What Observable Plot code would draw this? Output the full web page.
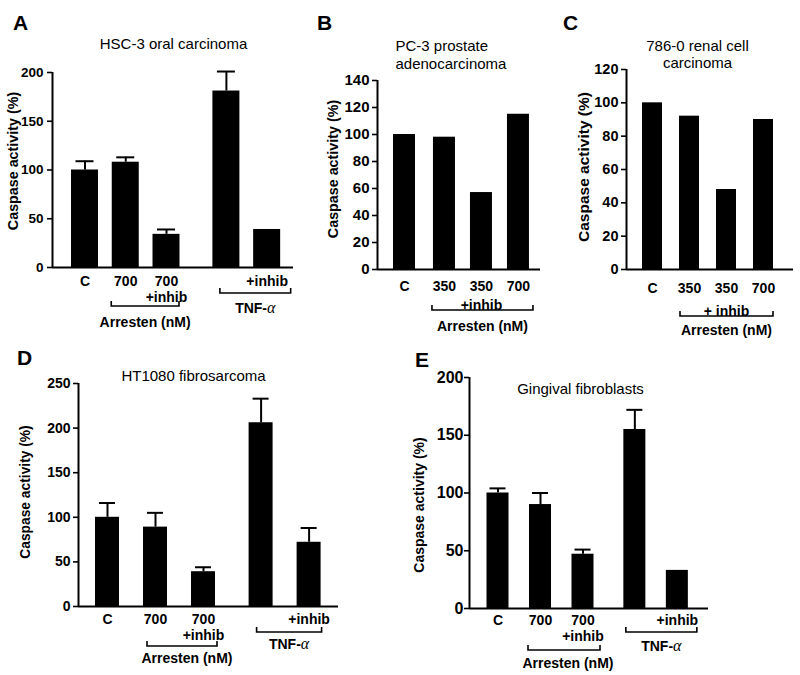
<!DOCTYPE html>
<html><head><meta charset="utf-8">
<script src="https://cdn.jsdelivr.net/npm/d3@7"></script>
<script src="https://cdn.jsdelivr.net/npm/@observablehq/plot@0.6"></script>
<style>
body{margin:0;background:#fff;}
#fig{position:relative;width:800px;height:675px;background:#fff;font-family:"Liberation Sans",Arial,sans-serif;overflow:hidden}
.panel{position:absolute}
.letter{position:absolute;font-weight:bold;font-size:21px;line-height:1;color:#000}
.panel svg g[aria-label^="y-axis tick"] path{stroke-width:1.6}
</style></head><body><div id="fig"></div>
<script>
// ---------- DATA ----------
// Panel A: HSC-3 oral carcinoma
const aTitle = "HSC-3 oral carcinoma";
const aLabels = ["C", "700", "700\n+inhib", "", "+inhib"];
const aGroups = ["C", "Arresten", "Arresten", "TNF", "TNF"];
const aValues = [100, 108, 34, 181, 39];
const aErrors = [9, 5, 5, 20, 0];
const aTicks = [0, 50, 100, 150, 200];
const aGroupLabels = ["Arresten (nM)", "TNF-α"];

// Panel B: PC-3 prostate adenocarcinoma
const bTitle = "PC-3 prostate\nadenocarcinoma";
const bLabels = ["C", "350", "350\n+inhib", "700"];
const bGroups = ["C", "Arresten", "Arresten", "Arresten"];
const bValues = [100, 98, 57, 115];
const bTicks = [0, 20, 40, 60, 80, 100, 120, 140];
const bGroupLabels = ["Arresten (nM)"];

// Panel C: 786-0 renal cell carcinoma
const cTitle = "786-0 renal cell\ncarcinoma";
const cLabels = ["C", "350", "350\n+ inhib", "700"];
const cGroups = ["C", "Arresten", "Arresten", "Arresten"];
const cValues = [100, 92, 48, 90];
const cTicks = [0, 20, 40, 60, 80, 100, 120];
const cGroupLabels = ["Arresten (nM)"];

// Panel D: HT1080 fibrosarcoma
const dTitle = "HT1080 fibrosarcoma";
const dLabels = ["C", "700", "700\n+inhib", "", "+inhib"];
const dGroups = ["C", "Arresten", "Arresten", "TNF", "TNF"];
const dValues = [100, 89, 39, 206, 72];
const dErrors = [16, 16, 5, 27, 16];
const dTicks = [0, 50, 100, 150, 200, 250];
const dGroupLabels = ["Arresten (nM)", "TNF-α"];

// Panel E: Gingival fibroblasts
const eTitle = "Gingival fibroblasts";
const eLabels = ["C", "700", "700\n+inhib", "", "+inhib"];
const eGroups = ["C", "Arresten", "Arresten", "TNF", "TNF"];
const eValues = [100, 90, 47, 155, 33];
const eErrors = [4, 10, 4, 17, 0];
const eTicks = [0, 50, 100, 150, 200];
const eGroupLabels = ["Arresten (nM)", "TNF-α"];

const yLabel = "Caspase activity (%)";

// ---------- LAYOUT ----------
const FONT = "'Liberation Sans', Arial, Helvetica, sans-serif";
const fig = document.getElementById("fig");

function bracketMark(b, pos) {
  return (index, scales, values, dims) => {
    const yAxis = dims.height - dims.marginBottom;
    const xa = scales.x(pos[b.from]) + b.l, xb = scales.x(pos[b.to]) + b.r;
    const y = yAxis + b.off;
    const g = d3.create("svg:g");
    g.append("path").attr("d", `M${xa},${y - 5}V${y}H${xb}V${y - 5}`)
      .attr("fill", "none").attr("stroke", "#000").attr("stroke-width", 1.6);
    const t = g.append("text").attr("x", (xa + xb) / 2 + (b.tdx || 0)).attr("y", yAxis + b.toff)
      .attr("text-anchor", "middle").attr("dy", "0.36em").attr("font-size", 14).attr("font-weight", "bold")
      .attr("fill", "#000");
    if (b.text.endsWith("α")) {
      t.append("tspan").text(b.text.slice(0, -1));
      t.append("tspan").attr("font-family", "'Liberation Serif','DejaVu Serif',serif")
        .attr("font-weight", "normal").attr("font-style", "italic").attr("font-size", 16).text("α");
    } else t.text(b.text);
    return g.node();
  };
}

function yLabelMark(text, cx, cy, size) {
  return () => d3.create("svg:text")
    .attr("transform", `translate(${cx},${cy}) rotate(-90)`)
    .attr("text-anchor", "middle").attr("dy", "0.36em")
    .attr("font-size", size).attr("font-weight", "bold").attr("fill", "#000")
    .text(text).node();
}

function panel(d, L) {
  const n = d.values.length;
  const pos = [];
  let extra = 0;
  for (let i = 0; i < n; i++) {
    if (i > 0 && d.groups[i] !== d.groups[i - 1]) extra += (L.gap[d.groups[i]] || 0);
    pos.push(i + extra);
  }
  const rows = d.values.map((v, i) => ({pos: pos[i], value: v, err: d.errors ? d.errors[i] : 0, label: d.labels[i]}));
  const x0 = (L.marginLeft - L.first) / L.spacing;
  const x1 = (L.width - L.marginRight - L.first) / L.spacing;
  const hw = L.barHalf / L.spacing, cw = L.capHalf / L.spacing;
  const yMax = d.ticks[d.ticks.length - 1];
  const errRows = rows.filter(r => r.err > 0);
  const chart = Plot.plot({
    width: L.width, height: L.height,
    marginLeft: L.marginLeft, marginRight: L.marginRight, marginTop: L.marginTop, marginBottom: L.marginBottom,
    style: {fontFamily: FONT, fontSize: L.tickFont + "px", fontWeight: "bold", background: "transparent", overflow: "visible", color: "#000"},
    x: {domain: [x0, x1], axis: null},
    y: {domain: [0, yMax], ticks: d.ticks, tickSize: 5, tickPadding: L.tickPad, label: null, tickFormat: d3.format("d")},
    marks: [
      Plot.rectY(rows, {x1: r => r.pos - hw, x2: r => r.pos + hw, y1: 0, y2: "value", fill: "#000"}),
      Plot.ruleX(errRows, {x: "pos", y1: "value", y2: r => r.value + r.err, stroke: "#000", strokeWidth: 2}),
      Plot.ruleY(errRows, {y: r => r.value + r.err, x1: r => r.pos - cw, x2: r => r.pos + cw, stroke: "#000", strokeWidth: 2}),
      Plot.ruleX([x0], {stroke: "#000", strokeWidth: 2}),
      Plot.ruleY([0], {stroke: "#000", strokeWidth: 2}),
      Plot.text(rows.filter(r => r.label), {x: "pos", text: "label", frameAnchor: "bottom", lineAnchor: "top",
        dy: L.labelDy, lineHeight: L.labelLH, fontSize: 14, fill: "#000"}),
      Plot.text([d.title], {text: t => t, frameAnchor: "top-left", dx: L.titleDx, dy: L.titleDy,
        textAnchor: L.titleAnchor, lineAnchor: "middle", lineHeight: L.titleLH || 1.2, fontSize: 15,
        fontWeight: "normal", fill: "#000"}),
      yLabelMark(yLabel, L.ylabX, L.ylabY, L.ylabSize),
      ...L.brackets.map((b, i) => bracketMark({...b, text: d.groupLabels[i]}, pos))
    ]
  });
  const div = document.createElement("div");
  div.className = "panel";
  div.style.left = L.left + "px";
  div.style.top = L.top + "px";
  div.appendChild(chart);
  fig.appendChild(div);
  const lt = document.createElement("div");
  lt.className = "letter";
  lt.textContent = L.letter;
  lt.style.left = L.letterX + "px";
  lt.style.top = L.letterY + "px";
  fig.appendChild(lt);
}

panel({title: aTitle, labels: aLabels, groups: aGroups, values: aValues, errors: aErrors, ticks: aTicks, groupLabels: aGroupLabels},
  {letter: "A", letterX: 13, letterY: 12, left: 0, top: 0, width: 300, height: 335,
   marginLeft: 52, marginRight: 7, marginTop: 72, marginBottom: 68, tickFont: 13.5, tickPad: 4,
   first: 84.5, spacing: 40.75, gap: {TNF: 0.47}, barHalf: 13.5, capHalf: 9,
   labelDy: 7, labelLH: 1.16, titleDx: 121, titleDy: -29, titleAnchor: "middle",
   ylabX: 13, ylabY: 161, ylabSize: 14.3,
   brackets: [{from: 1, to: 2, l: -14, r: 13, off: 39, toff: 55},
              {from: 3, to: 4, l: -6, r: 24, off: 26, toff: 41}]});

panel({title: bTitle, labels: bLabels, groups: bGroups, values: bValues, ticks: bTicks, groupLabels: bGroupLabels},
  {letter: "B", letterX: 317, letterY: 12, left: 300, top: 0, width: 245, height: 340,
   marginLeft: 77, marginRight: 5, marginTop: 80, marginBottom: 71, tickFont: 15, tickPad: 3,
   first: 104, spacing: 37, gap: {Arresten: 0.08}, barHalf: 11, capHalf: 0,
   labelDy: 9, labelLH: 1.3, titleDx: 18, titleDy: -26, titleAnchor: "start", titleLH: 1.2,
   ylabX: 32.5, ylabY: 169, ylabSize: 14.3,
   brackets: [{from: 1, to: 3, l: -12, r: 15, off: 41, toff: 57}]});

panel({title: cTitle, labels: cLabels, groups: cGroups, values: cValues, ticks: cTicks, groupLabels: cGroupLabels},
  {letter: "C", letterX: 563, letterY: 12, left: 530, top: 0, width: 270, height: 340,
   marginLeft: 96, marginRight: 7, marginTop: 69, marginBottom: 71, tickFont: 14.5, tickPad: 3,
   first: 122, spacing: 37, gap: {}, barHalf: 10, capHalf: 0,
   labelDy: 8, labelLH: 1.6, titleDx: 71, titleDy: -15.5, titleAnchor: "middle", titleLH: 1.13,
   ylabX: 53, ylabY: 167, ylabSize: 15.5,
   brackets: [{from: 1, to: 3, l: -9, r: 10, off: 47, toff: 61}]});

panel({title: dTitle, labels: dLabels, groups: dGroups, values: dValues, errors: dErrors, ticks: dTicks, groupLabels: dGroupLabels},
  {letter: "D", letterX: 17, letterY: 347, left: 0, top: 330, width: 345, height: 345,
   marginLeft: 78, marginRight: 7, marginTop: 53, marginBottom: 69, tickFont: 14, tickPad: 3,
   first: 107, spacing: 48, gap: {TNF: 0.2}, barHalf: 12, capHalf: 8,
   labelDy: 6, labelLH: 1.16, titleDx: 115, titleDy: -8, titleAnchor: "middle",
   ylabX: 25, ylabY: 162, ylabSize: 13.8,
   brackets: [{from: 1, to: 2, l: -8, r: 14, off: 40, toff: 52, tdx: 5},
              {from: 3, to: 4, l: -4, r: 13, off: 26, toff: 38}]});

panel({title: eTitle, labels: eLabels, groups: eGroups, values: eValues, errors: eErrors, ticks: eTicks, groupLabels: eGroupLabels},
  {letter: "E", letterX: 415, letterY: 349, left: 400, top: 330, width: 320, height: 345,
   marginLeft: 69, marginRight: 12, marginTop: 47, marginBottom: 67, tickFont: 16, tickPad: 1,
   first: 97.5, spacing: 42.5, gap: {TNF: 0.22}, barHalf: 11, capHalf: 8,
   labelDy: 5, labelLH: 1.16, titleDx: 111, titleDy: 11, titleAnchor: "middle",
   ylabX: 19, ylabY: 175, ylabSize: 14,
   brackets: [{from: 1, to: 2, l: -12, r: 17.5, off: 42, toff: 55, tdx: 4},
              {from: 3, to: 4, l: -8.5, r: 20, off: 24, toff: 38}]});
</script>
</body></html>
